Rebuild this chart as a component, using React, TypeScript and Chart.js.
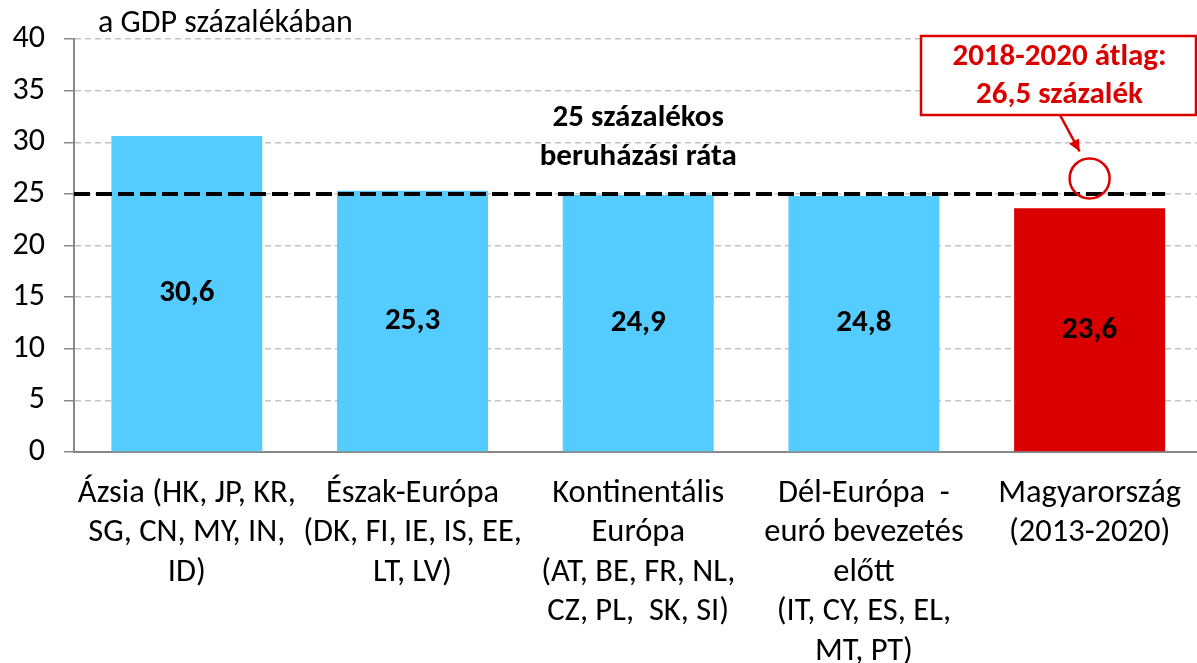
import React, { useEffect, useRef } from "react";
import { Chart, registerables } from "chart.js";

Chart.register(...registerables);

const categories: string[][] = [
  ["Ázsia (HK, JP, KR,", "SG, CN, MY, IN,", "ID)"],
  ["Észak-Európa", "(DK, FI, IE, IS, EE,", "LT, LV)"],
  ["Kontinentális", "Európa", "(AT, BE, FR, NL,", "CZ, PL,  SK, SI)"],
  ["Dél-Európa  -", "euró bevezetés", "előtt", "(IT, CY, ES, EL,", "MT, PT)"],
  ["Magyarország", "(2013-2020)"],
];
const values: number[] = [30.6, 25.3, 24.9, 24.8, 23.6];
const valueLabels: string[] = ["30,6", "25,3", "24,9", "24,8", "23,6"];
const barColors: string[] = ["#55CCFF", "#55CCFF", "#55CCFF", "#55CCFF", "#DA0000"];
const yTicks: number[] = [0, 5, 10, 15, 20, 25, 30, 35, 40];
const thresholdValue = 25;
const hungaryAverage = 26.5;
const axisTitle = "a GDP százalékában";
const thresholdText: string[] = ["25 százalékos", "beruházási ráta"];
const calloutText: string[] = ["2018-2020 átlag:", "26,5 százalék"];

const FONT = "Carlito, Lato, 'Open Sans', sans-serif";
const FS_TICK = 32;
const FS_CAT = 32.5;
const FS_BOLD = 31;
const RED = "#DA0000";
const CANVAS_W = 1203;

const overlayPlugin = {
  id: "overlay",
  afterDatasetsDraw(chart: any) {
    const ctx = chart.ctx as CanvasRenderingContext2D;
    const area = chart.chartArea;
    const y = chart.scales.y;
    const meta = chart.getDatasetMeta(0);
    const bars = meta.data as any[];
    ctx.save();

    // value labels
    ctx.font = `bold ${FS_BOLD}px ${FONT}`;
    ctx.fillStyle = "#000";
    ctx.textAlign = "center";
    ctx.textBaseline = "middle";
    bars.forEach((b, i) => {
      ctx.fillText(valueLabels[i], b.x, (b.y + b.base) / 2);
    });

    // threshold dashed line
    const last = bars[bars.length - 1];
    const ty = y.getPixelForValue(thresholdValue);
    ctx.beginPath();
    ctx.setLineDash([16, 6]);
    ctx.lineWidth = 4;
    ctx.strokeStyle = "#000";
    ctx.moveTo(area.left, ty);
    ctx.lineTo(last.x + last.width / 2, ty);
    ctx.stroke();
    ctx.setLineDash([]);

    // threshold text
    ctx.font = `bold ${FS_BOLD}px ${FONT}`;
    ctx.fillStyle = "#000";
    ctx.fillText(thresholdText[0], bars[2].x, y.getPixelForValue(32.3));
    ctx.fillText(thresholdText[1], bars[2].x, y.getPixelForValue(28.5));

    // axis title
    ctx.font = `${FS_TICK}px ${FONT}`;
    ctx.textAlign = "left";
    ctx.fillText(axisTitle, area.left + 24, 24);

    // circle
    const cy = y.getPixelForValue(hungaryAverage);
    ctx.beginPath();
    ctx.strokeStyle = RED;
    ctx.lineWidth = 2.5;
    ctx.arc(last.x, cy, 20, 0, Math.PI * 2);
    ctx.stroke();

    // callout box
    const bx = 921, byTop = 36, bw = 1196 - 921, bh = 79;
    ctx.fillStyle = "#fff";
    ctx.fillRect(bx, byTop, bw, bh);
    ctx.strokeRect(bx, byTop, bw, bh);
    ctx.fillStyle = RED;
    ctx.textAlign = "center";
    ctx.font = `bold ${FS_BOLD}px ${FONT}`;
    ctx.fillText(calloutText[0], bx + bw / 2 + 1, 57);
    ctx.fillText(calloutText[1], bx + bw / 2 + 1, 95);

    // arrow
    const x1 = 1060, y1 = byTop + bh, x2 = last.x - 10, y2 = cy - 27;
    ctx.beginPath();
    ctx.moveTo(x1, y1);
    ctx.lineTo(x2, y2);
    ctx.stroke();
    const ang = Math.atan2(y2 - y1, x2 - x1);
    const ah = 13;
    ctx.beginPath();
    ctx.moveTo(x2, y2);
    ctx.lineTo(x2 - ah * Math.cos(ang - 0.45), y2 - ah * Math.sin(ang - 0.45));
    ctx.lineTo(x2 - ah * Math.cos(ang + 0.45), y2 - ah * Math.sin(ang + 0.45));
    ctx.closePath();
    ctx.fill();

    ctx.restore();
  },
};

export default function App() {
  const ref = useRef<HTMLCanvasElement>(null);
  useEffect(() => {
    if (!ref.current) return;
    const chart = new Chart(ref.current, {
      type: "bar",
      data: {
        labels: categories,
        datasets: [
          {
            data: values,
            backgroundColor: barColors,
            borderWidth: 0,
            categoryPercentage: 1,
            barPercentage: 0.669,
          },
        ],
      },
      options: {
        animation: false,
        responsive: false,
        layout: { padding: { top: 39, left: 0, right: 0, bottom: 0 } },
        plugins: { legend: { display: false }, tooltip: { enabled: false } },
        scales: {
          x: {
            grid: { display: false, drawTicks: false },
            border: { display: true, color: "#888", width: 2 },
            ticks: {
              color: "#000",
              font: { family: FONT, size: FS_CAT, lineHeight: 39.5 / FS_CAT },
              padding: 22,
              maxRotation: 0,
              autoSkip: false,
            },
            afterFit: (s: any) => {
              s.height = 211;
            },
          },
          y: {
            min: 0,
            max: 40,
            afterBuildTicks: (s: any) => {
              s.ticks = yTicks.map((v) => ({ value: v }));
            },
            grid: {
              color: "#c4c4c4",
              tickColor: "#888",
              tickLength: 10,
              lineWidth: 1.5,
            } as any,
            border: { display: true, color: "#888", width: 2, dash: [6, 4] } as any,
            ticks: {
              color: "#000",
              font: { family: FONT, size: FS_TICK },
              padding: 19,
            },
            afterFit: (s: any) => {
              s.width = 74;
            },
          },
        },
      },
      plugins: [overlayPlugin],
    });
    return () => chart.destroy();
  }, []);
  return (
    <div style={{ position: "fixed", left: 0, top: 0, width: 1197, height: 663, background: "#fff", overflow: "hidden" }}>
      <canvas ref={ref} width={CANVAS_W} height={663} style={{ width: CANVAS_W, height: 663 }} />
    </div>
  );
}
